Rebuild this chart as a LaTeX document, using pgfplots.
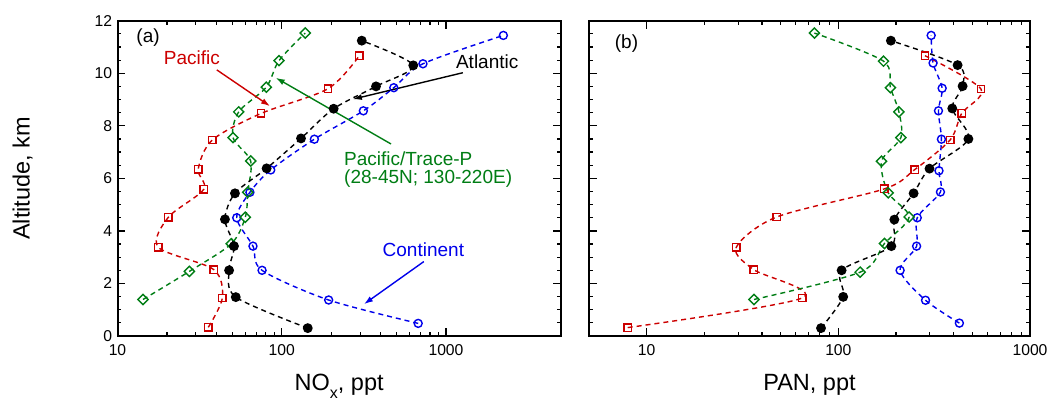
\documentclass[border=0pt]{standalone}
\usepackage{fontspec}
\setmainfont{Liberation Sans}
\usepackage{pgfplots}
\pgfplotsset{compat=1.18}
\usetikzlibrary{arrows.meta}
\definecolor{pred}{RGB}{204,0,0}
\definecolor{pgreen}{RGB}{0,125,20}
\definecolor{pblue}{RGB}{0,0,235}
\pgfplotsset{
  every axis/.append style={
    scale only axis,
    ymin=0, ymax=12, ytick={0,2,...,12}, minor y tick num=3,
    xtick={10,100,1000}, xticklabels={10,100,1000},
    tick align=inside, major tick length=8bp, minor tick length=4bp,
    every major tick/.append style={line width=1.4bp, black},
    every minor tick/.append style={line width=1.2bp, black},
    axis line style={line width=2bp},
    tick label style={font=\fontsize{15.7bp}{18bp}\selectfont, inner sep=1bp},
    xticklabel style={yshift=-7.2bp},
    yticklabel style={xshift=-4.2bp},
    /pgf/number format/assume math mode=true,
    label style={font=\fontsize{23.5bp}{28bp}\selectfont},
    clip=false,
  },
}
\tikzset{
  atl/.style={black, line width=1.4bp, dash pattern=on 5bp off 4bp, smooth, tension=0.5,
    mark=*, mark size=4.2bp, mark options={solid, fill=black}},
  cont/.style={pblue, line width=1.4bp, dash pattern=on 5bp off 4bp, smooth, tension=0.5,
    mark=o, mark size=4bp, mark options={solid, line width=1.4bp}},
  pac/.style={pred, line width=1.4bp, dash pattern=on 5bp off 4bp, smooth, tension=0.5,
    mark=square, mark size=3.7bp, mark options={solid, line width=1.4bp}},
  trp/.style={pgreen, line width=1.4bp, dash pattern=on 5bp off 4bp, smooth, tension=0.5,
    mark=square, mark size=3.6bp, mark options={solid, rotate=45, line width=1.4bp}},
}
\begin{document}
\begin{tikzpicture}
\path[use as bounding box] (0,0) rectangle (1056bp,413bp);
% ---------------- (a) NOx ----------------
\begin{semilogxaxis}[at={(117.5bp,77bp)}, anchor=south west,
  width=443.3bp, height=315.3bp, xmin=10, xmax=5000,
  xlabel={NO\raisebox{-8bp}{\fontsize{16bp}{16bp}\selectfont x}, ppt}, ylabel={Altitude, km},
  xlabel style={at={(axis description cs:0.5,-0.1744)}, anchor=base},
  ylabel style={at={(axis description cs:-0.1985,0.5)}, anchor=base},
]
\addplot[cont] coordinates {(677,0.48)(193,1.37)(75.9,2.5)(66.8,3.42)(53.2,4.5)(64,5.47)(85.7,6.32)(158,7.49)(314,8.57)(481,9.45)(724,10.36)(2234,11.44)};
\addplot[pac] coordinates {(35.7,0.33)(43.5,1.45)(38.5,2.53)(17.7,3.38)(20.4,4.52)(33.5,5.58)(31,6.35)(37.8,7.46)(74.8,8.47)(191,9.41)(297,10.67)};
\addplot[trp] coordinates {(14.3,1.39)(27.4,2.46)(49.3,3.51)(60,4.52)(62.1,5.47)(64.7,6.66)(50.5,7.55)(54.7,8.53)(80.5,9.47)(96.2,10.48)(139,11.53)};
\addplot[atl] coordinates {(144,0.3)(52.5,1.48)(47.8,2.5)(51.2,3.42)(45.1,4.44)(51.9,5.43)(80.9,6.38)(131,7.52)(207,8.65)(375,9.5)(632,10.3)(307,11.24)};
\node[font=\fontsize{19bp}{22bp}\selectfont] at (rel axis cs:0.069,0.945) {(a)};
\node[font=\fontsize{19bp}{22bp}\selectfont, text=pred] at (rel axis cs:0.168,0.882) {Pacific};
\draw[pred, line width=1.4bp, -{Latex[length=9bp,width=6bp]}] (rel axis cs:0.224,0.844) -- (rel axis cs:0.344,0.729);
\draw[pgreen, line width=1.4bp, -{Latex[length=9bp,width=6bp]}] (rel axis cs:0.617,0.609) -- (rel axis cs:0.357,0.819);
\node[font=\fontsize{19bp}{17.6bp}\selectfont, text=pgreen, anchor=west, align=left, inner sep=0pt] at (rel axis cs:0.511,0.528) {Pacific/Trace-P\\(28-45N; 130-220E)};
\node[font=\fontsize{19bp}{22bp}\selectfont] at (rel axis cs:0.834,0.869) {Atlantic};
\draw[black, line width=1.4bp, -{Latex[length=9bp,width=6bp]}] (rel axis cs:0.779,0.835) -- (rel axis cs:0.531,0.751);
\node[font=\fontsize{19bp}{22bp}\selectfont, text=pblue] at (rel axis cs:0.690,0.275) {Continent};
\draw[pblue, line width=1.4bp, -{Latex[length=9bp,width=6bp]}] (rel axis cs:0.691,0.236) -- (rel axis cs:0.556,0.101);
\end{semilogxaxis}
% ---------------- (b) PAN ----------------
\begin{semilogxaxis}[at={(589bp,77bp)}, anchor=south west,
  width=441bp, height=315.3bp, xmin=5, xmax=1000,
  yticklabels={},
  xlabel={PAN, ppt},
  xlabel style={at={(axis description cs:0.5,-0.1744)}, anchor=base},
]
\addplot[cont] coordinates {(428,0.49)(285,1.36)(210,2.5)(256,3.42)(258,4.5)(341,5.48)(335,6.29)(345,7.49)(333,8.57)(348,9.43)(312,10.39)(305,11.44)};
\addplot[pac] coordinates {(7.96,0.32)(64.9,1.45)(36.1,2.53)(29.3,3.37)(47.7,4.53)(174,5.6)(250,6.33)(383,7.46)(440,8.47)(555,9.4)(283,10.67)};
\addplot[trp] coordinates {(36.3,1.39)(130,2.43)(174,3.52)(234,4.53)(182,5.45)(168,6.65)(212,7.55)(207,8.53)(187,9.45)(172,10.46)(75,11.53)};
\addplot[atl] coordinates {(81.2,0.3)(106,1.49)(104,2.5)(189,3.42)(196,4.43)(247,5.43)(299,6.37)(477,7.5)(393,8.66)(445,9.51)(419,10.31)(188,11.24)};
\node[font=\fontsize{19bp}{22bp}\selectfont] at (rel axis cs:0.085,0.928) {(b)};
\end{semilogxaxis}
\end{tikzpicture}
\end{document}
